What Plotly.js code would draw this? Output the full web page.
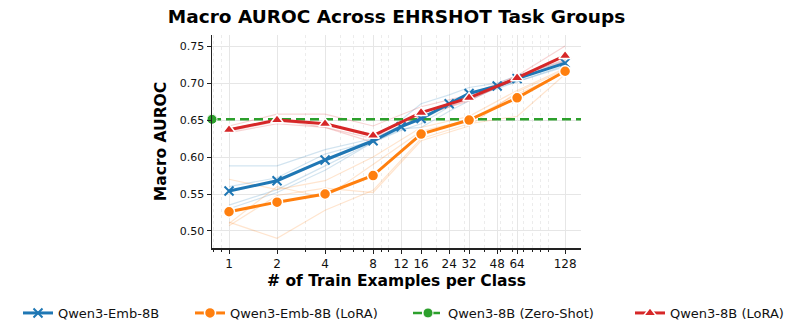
<!DOCTYPE html>
<html>
<head>
<meta charset="utf-8">
<script src="https://cdn.plot.ly/plotly-3.0.1.min.js"></script>
<style>
  html, body { margin: 0; padding: 0; background: #fff; }
  #chart { width: 793px; height: 336px; }
</style>
</head>
<body>
<div id="chart"></div>
<script>
// x positions (train examples per class)
const xAll  = [1, 2, 4, 8, 12, 16, 24, 32, 48, 64, 128];
const xPow2 = [1, 2, 4, 8, 16, 32, 64, 128];
const xTicks = [1, 2, 4, 8, 12, 16, 24, 32, 48, 64, 128];
const xMinor = [0.8, 0.9, 3, 5, 6, 7, 9, 10, 20, 30, 40, 50, 60, 70, 80, 90, 100];

// mean curves
const embMean  = [0.554, 0.568, 0.596, 0.622, 0.641, 0.652, 0.672, 0.686, 0.696, 0.706, 0.727];
const loraEmb  = [0.526, 0.539, 0.550, 0.575, 0.631, 0.650, 0.680, 0.716];
const loraLLM  = [0.637, 0.650, 0.645, 0.629, 0.660, 0.680, 0.707, 0.737];
const zeroShot = 0.651;

// per task-group curves (faint)
const embGroups = [
  [0.588, 0.588, 0.610, 0.625, 0.650, 0.672, 0.684, 0.694, 0.700, 0.710, 0.730],
  [0.560, 0.572, 0.604, 0.622, 0.640, 0.650, 0.670, 0.688, 0.694, 0.706, 0.728],
  [0.535, 0.556, 0.588, 0.620, 0.636, 0.645, 0.668, 0.682, 0.692, 0.702, 0.722],
  [0.530, 0.552, 0.582, 0.620, 0.638, 0.640, 0.662, 0.676, 0.694, 0.702, 0.724]
];
const loraEmbGroups = [
  [0.570, 0.556, 0.568, 0.600, 0.640, 0.655, 0.690, 0.720],
  [0.510, 0.560, 0.545, 0.590, 0.635, 0.650, 0.685, 0.714],
  [0.512, 0.490, 0.528, 0.555, 0.625, 0.645, 0.655, 0.712],
  [0.507, 0.548, 0.558, 0.552, 0.622, 0.642, 0.688, 0.718]
];
const loraLLMGroups = [
  [0.642, 0.658, 0.658, 0.642, 0.668, 0.684, 0.710, 0.750],
  [0.635, 0.648, 0.646, 0.628, 0.660, 0.680, 0.706, 0.738],
  [0.633, 0.645, 0.640, 0.625, 0.655, 0.678, 0.705, 0.730],
  [0.638, 0.650, 0.640, 0.620, 0.656, 0.676, 0.708, 0.732]
];

const BLUE = '#1f77b4', ORANGE = '#ff7f0e', GREEN = '#2ca02c', RED = '#d62728';
const xLo = 0.782, xHi = 161;

const traces = [];

function faint(xs, groups, rgba) {
  groups.forEach(g => traces.push({
    x: xs, y: g, type: 'scatter', mode: 'lines', showlegend: false,
    hoverinfo: 'skip', line: { color: rgba, width: 1.2 }
  }));
}
faint(xAll, embGroups, 'rgba(31,119,180,0.2)');
faint(xPow2, loraEmbGroups, 'rgba(255,127,14,0.2)');
faint(xPow2, loraLLMGroups, 'rgba(214,39,40,0.2)');

// zero-shot reference line
traces.push({
  x: [xLo, xHi], y: [zeroShot, zeroShot], type: 'scatter', mode: 'lines',
  showlegend: false, line: { color: GREEN, width: 2.5, dash: '9px,5px' }
});

traces.push({
  x: xAll, y: embMean, type: 'scatter', mode: 'lines+markers',
  name: 'Qwen3-Emb-8B', legend: 'legend',
  line: { color: BLUE, width: 3 },
  marker: { symbol: 'x-thin', size: 9, color: BLUE, line: { color: BLUE, width: 2 } }
});
traces.push({
  x: xPow2, y: loraEmb, type: 'scatter', mode: 'lines+markers',
  name: 'Qwen3-Emb-8B (LoRA)', legend: 'legend2',
  line: { color: ORANGE, width: 3 },
  marker: { symbol: 'circle', size: 11, color: ORANGE, line: { color: 'white', width: 1.5 } }
});
traces.push({
  x: [xLo], y: [zeroShot], type: 'scatter', mode: 'lines+markers',
  name: 'Qwen3-8B (Zero-Shot)', legend: 'legend3', cliponaxis: false,
  line: { color: GREEN, width: 2.5, dash: 'dashdot' },
  marker: { symbol: 'circle', size: 10, color: GREEN, line: { color: 'white', width: 1 } }
});
traces.push({
  x: xPow2, y: loraLLM, type: 'scatter', mode: 'lines+markers',
  name: 'Qwen3-8B (LoRA)', legend: 'legend4',
  line: { color: RED, width: 3 },
  marker: { symbol: 'triangle-up', size: 11, color: RED, line: { color: 'white', width: 1.5 } }
});

function leg(xpx) {
  return {
    xref: 'container', yref: 'container', x: xpx / 793, y: 1 - 313 / 336,
    xanchor: 'left', yanchor: 'middle', orientation: 'h',
    font: { family: 'DejaVu Sans', size: 13, color: '#111' },
    bgcolor: 'rgba(0,0,0,0)', itemwidth: 30
  };
}

const layout = {
  width: 793, height: 336,
  margin: { l: 212, r: 212, t: 35, b: 88 },
  paper_bgcolor: '#fff', plot_bgcolor: '#fff',
  font: { family: 'DejaVu Sans', size: 12, color: '#111' },
  title: {
    text: '<b>Macro AUROC Across EHRSHOT Task Groups</b>',
    x: 0.5, xanchor: 'center', y: 1 - 17 / 336, yanchor: 'middle',
    font: { family: 'DejaVu Sans', size: 18.5, color: '#000' }
  },
  xaxis: {
    type: 'log', range: [Math.log10(xLo), Math.log10(xHi)],
    tickmode: 'array', tickvals: xTicks, ticktext: xTicks.map(String),
    showline: true, linecolor: '#222', linewidth: 1.5,
    ticks: 'outside', ticklen: 4, tickcolor: '#222',
    showgrid: true, gridcolor: '#e6e6e6', gridwidth: 1,
    zeroline: false,
    minor: {
      tickmode: 'array', tickvals: xMinor, ticks: 'outside', ticklen: 2,
      tickcolor: '#222', showgrid: true, gridcolor: '#ececec', griddash: 'dot', gridwidth: 1
    },
    tickfont: { family: 'DejaVu Sans', size: 12, color: '#111' },
    title: {
      text: '<b># of Train Examples per Class</b>', standoff: 5,
      font: { family: 'DejaVu Sans', size: 15.5, color: '#000' }
    }
  },
  yaxis: {
    range: [0.477, 0.765],
    tickmode: 'array', tickvals: [0.50, 0.55, 0.60, 0.65, 0.70, 0.75],
    ticktext: ['0.50', '0.55', '0.60', '0.65', '0.70', '0.75'],
    showline: true, linecolor: '#222', linewidth: 1.5,
    ticks: 'outside', ticklen: 4, tickcolor: '#222',
    showgrid: true, gridcolor: '#e6e6e6', gridwidth: 1, zeroline: false,
    tickfont: { family: 'DejaVu Sans', size: 11, color: '#111' },
    title: {
      text: '<b>Macro AUROC</b>', standoff: 9,
      font: { family: 'DejaVu Sans', size: 15.5, color: '#000' }
    }
  },
  legend: leg(18),
  legend2: leg(190),
  legend3: leg(408),
  legend4: leg(630)
};

Plotly.newPlot('chart', traces, layout, { displayModeBar: false, staticPlot: true });
</script>
</body>
</html>
